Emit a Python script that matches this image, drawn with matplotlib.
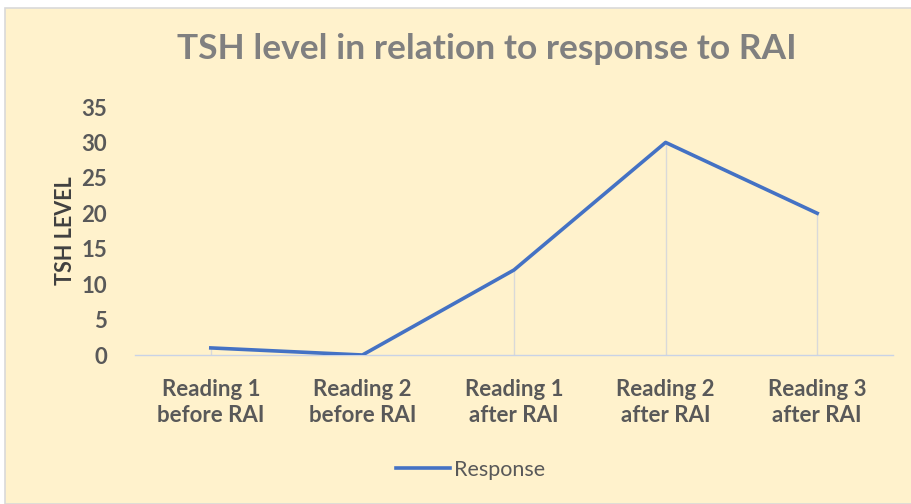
import matplotlib
matplotlib.use("Agg")
from matplotlib import pyplot as plt

categories = ["Reading 1\nbefore RAI", "Reading 2\nbefore RAI", "Reading 1\nafter RAI",
              "Reading 2\nafter RAI", "Reading 3\nafter RAI"]
response = [1, 0, 12, 30, 20]
y_ticks = [0, 5, 10, 15, 20, 25, 30, 35]

plt.rcParams['font.family'] = ['Lato', 'DejaVu Sans']

bg = '#FFF2CC'
fig = plt.figure(figsize=(9.11, 5.04), dpi=100)
fig.patch.set_facecolor('white')
# chart area panel, behind everything
panel = plt.Rectangle((5 / 911, 0), 1, 1 - 8 / 504, transform=fig.transFigure,
                      facecolor=bg, edgecolor='#D9D9D9', linewidth=1.2, zorder=-10)
fig.patches.append(panel)

ax = fig.add_axes([135 / 911, 1 - 355 / 504, (893 - 135) / 911, (355 - 107) / 504])
ax.set_facecolor(bg)
x = list(range(len(categories)))

ax.vlines(x, 0, response, colors='#D9D9D9', linewidth=1.0, zorder=1)
line, = ax.plot(x, response, color='#4472C4', linewidth=2.6, solid_joinstyle='round',
                label='Response', zorder=3)

ax.set_xlim(-0.5, len(categories) - 0.5)
ax.set_ylim(0, 35)
ax.set_yticks(y_ticks)
ax.set_xticks(x)
ax.set_xticklabels(categories, fontsize=16, fontweight='bold', color='#595959',
                   linespacing=1.3)
ax.tick_params(axis='y', labelsize=16, labelcolor='#595959', length=0, pad=20)
ax.tick_params(axis='x', length=0, pad=17)
for lab in ax.get_yticklabels():
    lab.set_fontweight('bold')

for side in ['top', 'right', 'left']:
    ax.spines[side].set_visible(False)
ax.spines['bottom'].set_color('#C9D3E6')
ax.spines['bottom'].set_linewidth(1.0)

ax.set_ylabel('TSH LEVEL', fontsize=15.5, fontweight='bold', color='#404040', labelpad=4)

fig.text(487 / 911, 1 - 49 / 504, 'TSH level in relation to response to RAI',
         fontsize=25.5, fontweight='bold', color='#808080', ha='center', va='center')

leg = fig.legend(handles=[line], loc='center', bbox_to_anchor=(471 / 911, 1 - 470 / 504),
                 frameon=False, fontsize=15.5, handlelength=2.5, handletextpad=0.2)
for t in leg.get_texts():
    t.set_color('#595959')

fig.savefig('out.png', dpi=100, facecolor=fig.get_facecolor())
